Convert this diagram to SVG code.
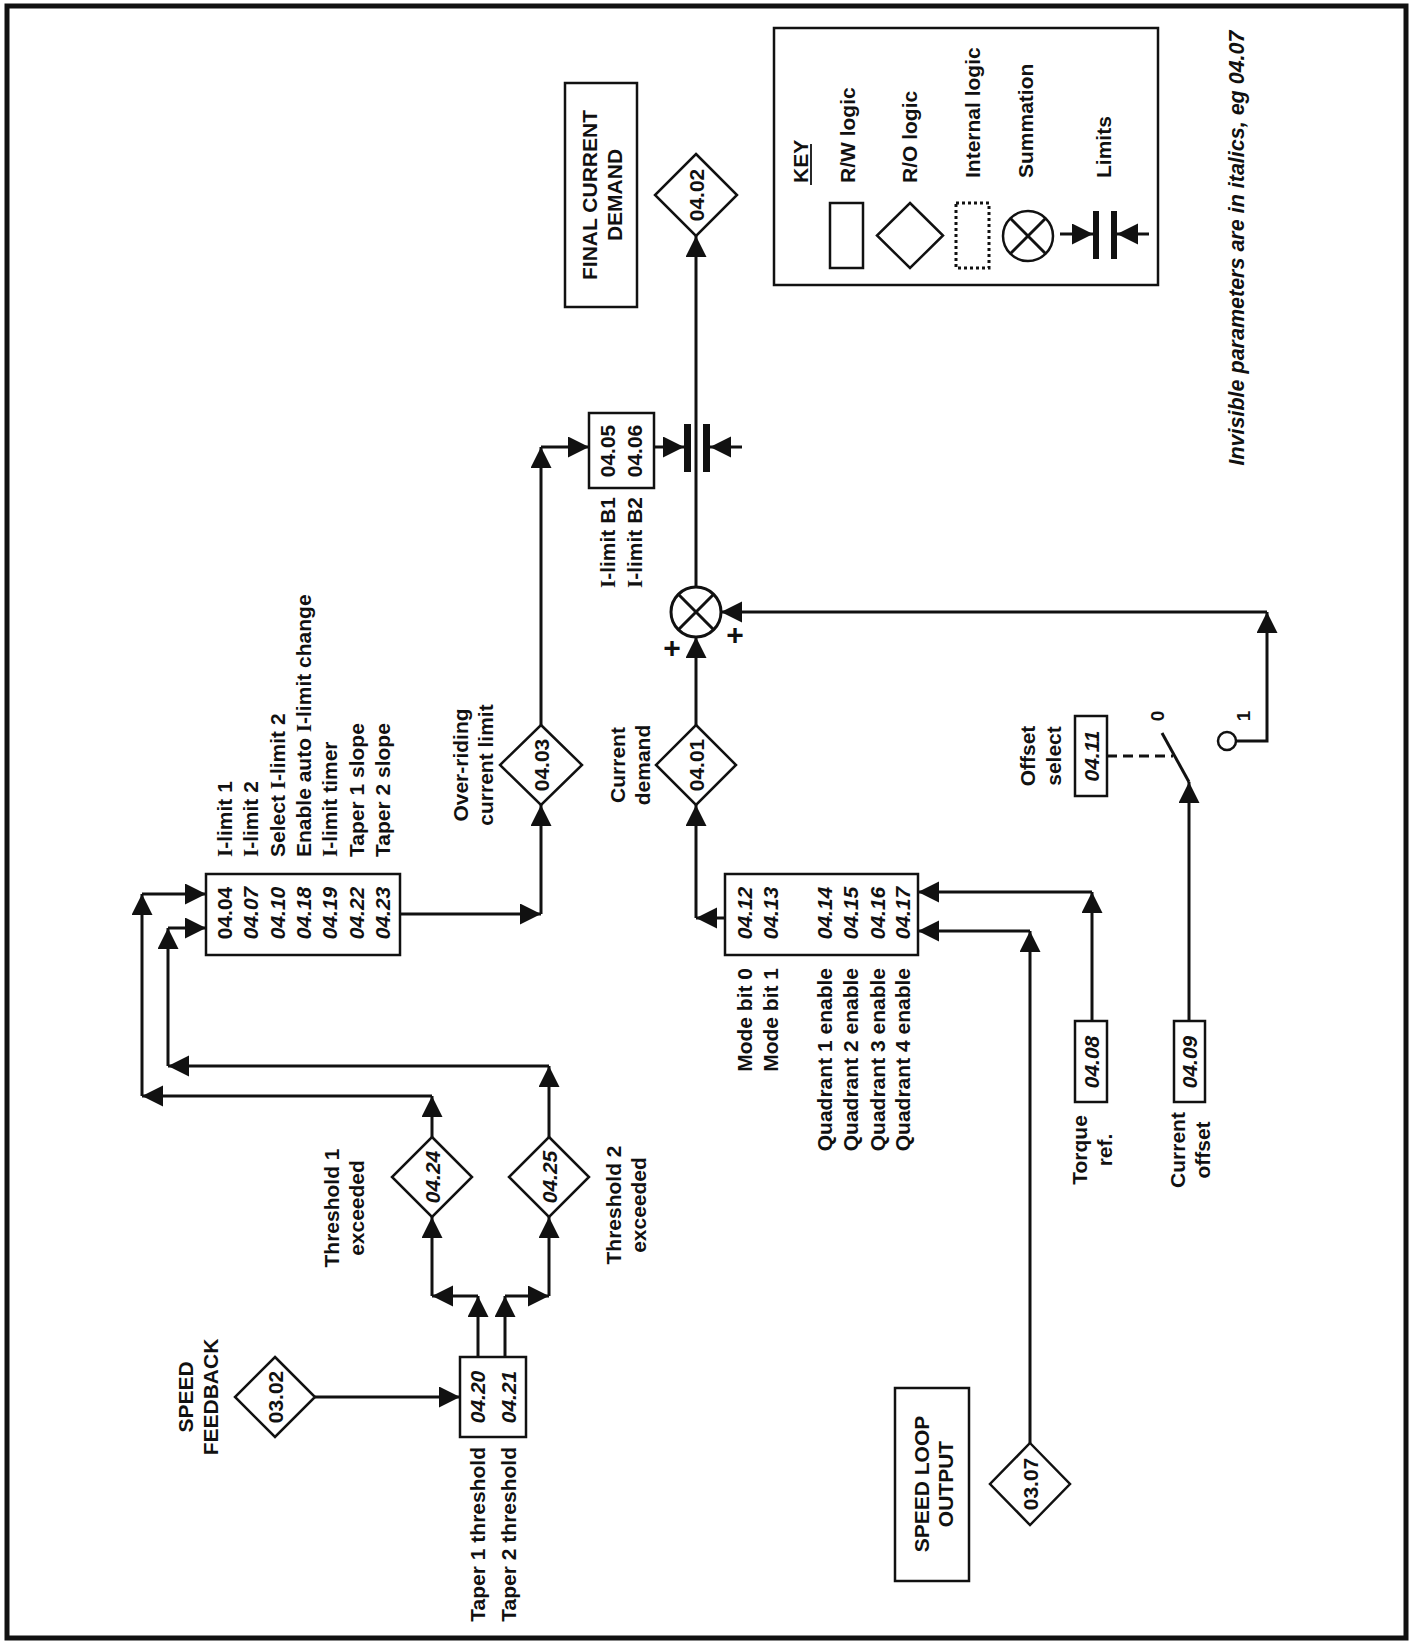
<svg xmlns="http://www.w3.org/2000/svg" width="1412" height="1641" viewBox="0 0 1412 1641">
<defs>
<marker id="ah" markerUnits="userSpaceOnUse" markerWidth="22" markerHeight="22" viewBox="0 0 22 22" refX="21" refY="10.5" orient="auto"><path d="M0,0 L21,10.5 L0,21 Z" fill="#111"/></marker>
<style>
.t{font-family:"Liberation Sans",Arial,Helvetica,sans-serif;font-weight:bold;font-size:21px;fill:#111}
.it{font-style:italic}
.sf{font-family:"Liberation Serif","Times New Roman",serif}
.bx{fill:#fff;stroke:#111;stroke-width:2.5}
.ln{fill:none;stroke:#111;stroke-width:3}
.ar{marker-end:url(#ah)}
.pl{font-size:30px}
.sw{font-size:19px}
.nt{font-size:21.5px}
</style>
</defs>
<rect x="0" y="0" width="1412" height="1641" fill="#fff"/>
<rect x="7" y="6" width="1399" height="1632" fill="none" stroke="#111" stroke-width="5"/>

<g id="connectors">
<line class="ln ar" x1="696" y1="637" x2="696" y2="236"/>
<line class="ln ar" x1="654" y1="447" x2="684" y2="447"/>
<line class="ln ar" x1="742" y1="447" x2="710" y2="447"/>
<line class="ln ar" x1="541" y1="725" x2="541" y2="447"/>
<line class="ln ar" x1="541" y1="447" x2="589" y2="447"/>
<line class="ln ar" x1="400" y1="914" x2="541" y2="914"/>
<line class="ln ar" x1="541" y1="914" x2="541" y2="805"/>
<line class="ln ar" x1="432" y1="1137" x2="432" y2="1096"/>
<line class="ln ar" x1="432" y1="1096" x2="142" y2="1096"/>
<line class="ln ar" x1="142" y1="1096" x2="142" y2="894"/>
<line class="ln ar" x1="142" y1="894" x2="206" y2="894"/>
<line class="ln ar" x1="549" y1="1137" x2="549" y2="1066"/>
<line class="ln ar" x1="549" y1="1066" x2="168" y2="1066"/>
<line class="ln ar" x1="168" y1="1066" x2="168" y2="928"/>
<line class="ln ar" x1="168" y1="928" x2="206" y2="928"/>
<line class="ln ar" x1="478" y1="1357" x2="478" y2="1296"/>
<line class="ln ar" x1="478" y1="1296" x2="432" y2="1296"/>
<line class="ln ar" x1="432" y1="1296" x2="432" y2="1217"/>
<line class="ln ar" x1="505" y1="1357" x2="505" y2="1296"/>
<line class="ln ar" x1="505" y1="1296" x2="549" y2="1296"/>
<line class="ln ar" x1="549" y1="1296" x2="549" y2="1217"/>
<line class="ln ar" x1="315" y1="1397" x2="460" y2="1397"/>
<line class="ln ar" x1="725" y1="918" x2="696" y2="918"/>
<line class="ln ar" x1="696" y1="918" x2="696" y2="805"/>
<line class="ln ar" x1="696" y1="725" x2="696" y2="637"/>
<polyline class="ln ar" points="1236,741 1267,741 1267,612"/>
<line class="ln ar" x1="1267" y1="612" x2="721" y2="612"/>
<line class="ln ar" x1="1189" y1="1021" x2="1189" y2="782"/>
<line class="ln" x1="1189" y1="782" x2="1162" y2="733"/>
<line class="ln" x1="1107" y1="756" x2="1173" y2="756" stroke-dasharray="10 6"/>
<line class="ln ar" x1="1092" y1="1021" x2="1092" y2="892"/>
<line class="ln ar" x1="1092" y1="892" x2="918" y2="892"/>
<line class="ln ar" x1="1030" y1="1443" x2="1030" y2="931"/>
<line class="ln ar" x1="1030" y1="931" x2="918" y2="931"/>
</g>

<g id="final-current-demand">
<rect class="bx" x="565" y="83" width="72" height="224"/>
<text class="t" transform="translate(597,195) rotate(-90)" text-anchor="middle"><tspan x="0" y="0">FINAL CURRENT</tspan><tspan x="0" y="25">DEMAND</tspan></text>
</g>

<g id="n0402">
<polygon class="bx" points="696,154 737,195 696,236 655,195"/>
<text class="t" transform="translate(703.5,195) rotate(-90)" text-anchor="middle">04.02</text>
</g>

<g id="limits">
<rect x="684" y="424" width="7" height="48" fill="#111"/>
<rect x="703" y="424" width="7" height="48" fill="#111"/>
</g>

<g id="n0405">
<rect class="bx" x="589" y="413" width="65" height="75"/>
<text class="t" transform="translate(615,451) rotate(-90)" text-anchor="middle"><tspan x="0" y="0">04.05</tspan><tspan x="0" y="27">04.06</tspan></text>
<text class="t" transform="translate(615,497) rotate(-90)" text-anchor="end"><tspan x="0" y="0"><tspan class="sf">I</tspan>-limit B1</tspan><tspan x="0" y="27"><tspan class="sf">I</tspan>-limit B2</tspan></text>
</g>

<g id="summation">
<circle cx="696" cy="612" r="25" fill="#fff" stroke="#111" stroke-width="3"/>
<line class="ln" x1="678.3" y1="594.3" x2="713.7" y2="629.7" stroke-width="2.5"/>
<line class="ln" x1="678.3" y1="629.7" x2="713.7" y2="594.3" stroke-width="2.5"/>
<text class="t pl" x="672" y="658" text-anchor="middle">+</text>
<text class="t pl" x="735" y="645" text-anchor="middle">+</text>
</g>

<g id="n0403">
<polygon class="bx" points="541,725 582,765 541,805 500,765"/>
<text class="t" transform="translate(548.5,765) rotate(-90)" text-anchor="middle">04.03</text>
<text class="t" transform="translate(468,765) rotate(-90)" text-anchor="middle"><tspan x="0" y="0">Over-riding</tspan><tspan x="0" y="25">current limit</tspan></text>
</g>

<g id="n0404">
<rect class="bx" x="206" y="874" width="194" height="81"/>
<text class="t" transform="translate(232,913) rotate(-90)" text-anchor="middle"><tspan x="0" y="0">04.04</tspan><tspan class="it" x="0" y="26.3">04.07</tspan><tspan class="it" x="0" y="52.6">04.10</tspan><tspan class="it" x="0" y="78.9">04.18</tspan><tspan class="it" x="0" y="105.2">04.19</tspan><tspan class="it" x="0" y="131.5">04.22</tspan><tspan class="it" x="0" y="157.8">04.23</tspan></text>
<text class="t" transform="translate(232,857) rotate(-90)"><tspan x="0" y="0"><tspan class="sf">I</tspan>-limit 1</tspan><tspan x="0" y="26.3"><tspan class="sf">I</tspan>-limit 2</tspan><tspan x="0" y="52.6">Select <tspan class="sf">I</tspan>-limit 2</tspan><tspan x="0" y="78.9">Enable auto <tspan class="sf">I</tspan>-limit change</tspan><tspan x="0" y="105.2"><tspan class="sf">I</tspan>-limit timer</tspan><tspan x="0" y="131.5">Taper 1 slope</tspan><tspan x="0" y="157.8">Taper 2 slope</tspan></text>
</g>

<g id="n0401">
<polygon class="bx" points="696,725 736,765 696,805 656,765"/>
<text class="t" transform="translate(703.5,765) rotate(-90)" text-anchor="middle">04.01</text>
<text class="t" transform="translate(625,765) rotate(-90)" text-anchor="middle"><tspan x="0" y="0">Current</tspan><tspan x="0" y="25">demand</tspan></text>
</g>

<g id="n0412">
<rect class="bx" x="725" y="874" width="193" height="81"/>
<text class="t it" transform="translate(752,913) rotate(-90)" text-anchor="middle"><tspan x="0" y="0">04.12</tspan><tspan x="0" y="26">04.13</tspan><tspan x="0" y="80">04.14</tspan><tspan x="0" y="106">04.15</tspan><tspan x="0" y="133">04.16</tspan><tspan x="0" y="158">04.17</tspan></text>
<text class="t" transform="translate(752,968) rotate(-90)" text-anchor="end"><tspan x="0" y="0">Mode bit 0</tspan><tspan x="0" y="26">Mode bit 1</tspan><tspan x="0" y="80">Quadrant 1 enable</tspan><tspan x="0" y="106">Quadrant 2 enable</tspan><tspan x="0" y="133">Quadrant 3 enable</tspan><tspan x="0" y="158">Quadrant 4 enable</tspan></text>
</g>

<g id="n0411">
<rect class="bx" x="1075" y="716" width="32" height="80"/>
<text class="t it" transform="translate(1098.5,756) rotate(-90)" text-anchor="middle">04.11</text>
<text class="t" transform="translate(1035,756) rotate(-90)" text-anchor="middle"><tspan x="0" y="0">Offset</tspan><tspan x="0" y="26">select</tspan></text>
</g>

<g id="switch">
<circle cx="1227" cy="741" r="9" fill="#fff" stroke="#111" stroke-width="2.5"/>
<text class="t sw" transform="translate(1164,716) rotate(-90)" text-anchor="middle">0</text>
<text class="t sw" transform="translate(1250,716) rotate(-90)" text-anchor="middle">1</text>
</g>

<g id="n0408">
<rect class="bx" x="1075" y="1021" width="32" height="81"/>
<text class="t it" transform="translate(1098.5,1062) rotate(-90)" text-anchor="middle">04.08</text>
<text class="t" transform="translate(1087,1150) rotate(-90)" text-anchor="middle"><tspan x="0" y="0">Torque</tspan><tspan x="0" y="25">ref.</tspan></text>
</g>

<g id="n0409">
<rect class="bx" x="1174" y="1021" width="31" height="81"/>
<text class="t it" transform="translate(1197,1062) rotate(-90)" text-anchor="middle">04.09</text>
<text class="t" transform="translate(1185,1150) rotate(-90)" text-anchor="middle"><tspan x="0" y="0">Current</tspan><tspan x="0" y="25">offset</tspan></text>
</g>

<g id="n0307">
<polygon class="bx" points="1030,1443 1070,1484 1030,1525 990,1484"/>
<text class="t" transform="translate(1037.5,1484) rotate(-90)" text-anchor="middle">03.07</text>
</g>

<g id="speed-loop-output">
<rect class="bx" x="895" y="1388" width="74" height="193"/>
<text class="t" transform="translate(929,1484) rotate(-90)" text-anchor="middle"><tspan x="0" y="0">SPEED LOOP</tspan><tspan x="0" y="24">OUTPUT</tspan></text>
</g>

<g id="n0424">
<polygon class="bx" points="432,1137 472,1177 432,1217 392,1177"/>
<text class="t it" transform="translate(439.5,1177) rotate(-90)" text-anchor="middle">04.24</text>
<text class="t" transform="translate(339,1208) rotate(-90)" text-anchor="middle"><tspan x="0" y="0">Threshold 1</tspan><tspan x="0" y="25">exceeded</tspan></text>
</g>

<g id="n0425">
<polygon class="bx" points="549,1137 589,1177 549,1217 509,1177"/>
<text class="t it" transform="translate(556.5,1177) rotate(-90)" text-anchor="middle">04.25</text>
<text class="t" transform="translate(621,1205) rotate(-90)" text-anchor="middle"><tspan x="0" y="0">Threshold 2</tspan><tspan x="0" y="25">exceeded</tspan></text>
</g>

<g id="n0420">
<rect class="bx" x="460" y="1357" width="66" height="80"/>
<text class="t it" transform="translate(485,1397) rotate(-90)" text-anchor="middle"><tspan x="0" y="0">04.20</tspan><tspan x="0" y="31">04.21</tspan></text>
<text class="t" transform="translate(485,1447) rotate(-90)" text-anchor="end"><tspan x="0" y="0">Taper 1 threshold</tspan><tspan x="0" y="31">Taper 2 threshold</tspan></text>
</g>

<g id="n0302">
<polygon class="bx" points="275,1357 315,1397 275,1437 235,1397"/>
<text class="t" transform="translate(282.5,1397) rotate(-90)" text-anchor="middle">03.02</text>
<text class="t" transform="translate(193,1397) rotate(-90)" text-anchor="middle"><tspan x="0" y="0">SPEED</tspan><tspan x="0" y="25">FEEDBACK</tspan></text>
</g>

<g id="key">
<rect class="bx" x="774" y="28" width="384" height="257"/>
<text class="t" transform="translate(808,183) rotate(-90)">KEY</text>
<line x1="811" y1="144" x2="811" y2="185" stroke="#111" stroke-width="1.8"/>
<text class="t" transform="translate(855,183) rotate(-90)">R/W logic</text>
<text class="t" transform="translate(917,183) rotate(-90)">R/O logic</text>
<text class="t" transform="translate(980,178) rotate(-90)">Internal logic</text>
<text class="t" transform="translate(1033,178) rotate(-90)">Summation</text>
<text class="t" transform="translate(1111,178) rotate(-90)">Limits</text>
<rect class="bx" x="830" y="203" width="33" height="65"/>
<polygon class="bx" points="910,203 943,235.5 910,268 877,235.5"/>
<rect x="956" y="203" width="33" height="65" fill="none" stroke="#111" stroke-width="3" stroke-dasharray="3 3"/>
<circle cx="1028" cy="236" r="25" fill="#fff" stroke="#111" stroke-width="2.5"/>
<line class="ln" x1="1010.3" y1="218.3" x2="1045.7" y2="253.7" stroke-width="2.5"/>
<line class="ln" x1="1010.3" y1="253.7" x2="1045.7" y2="218.3" stroke-width="2.5"/>
<line class="ln ar" x1="1060" y1="234" x2="1093" y2="234"/>
<rect x="1093" y="211" width="6" height="48" fill="#111"/>
<rect x="1111" y="211" width="6" height="48" fill="#111"/>
<line class="ln ar" x1="1149" y1="234" x2="1117" y2="234"/>
</g>

<g id="note">
<text class="t it nt" transform="translate(1244,248) rotate(-90)" text-anchor="middle">Invisible parameters are in italics, eg 04.07</text>
</g>
</svg>
